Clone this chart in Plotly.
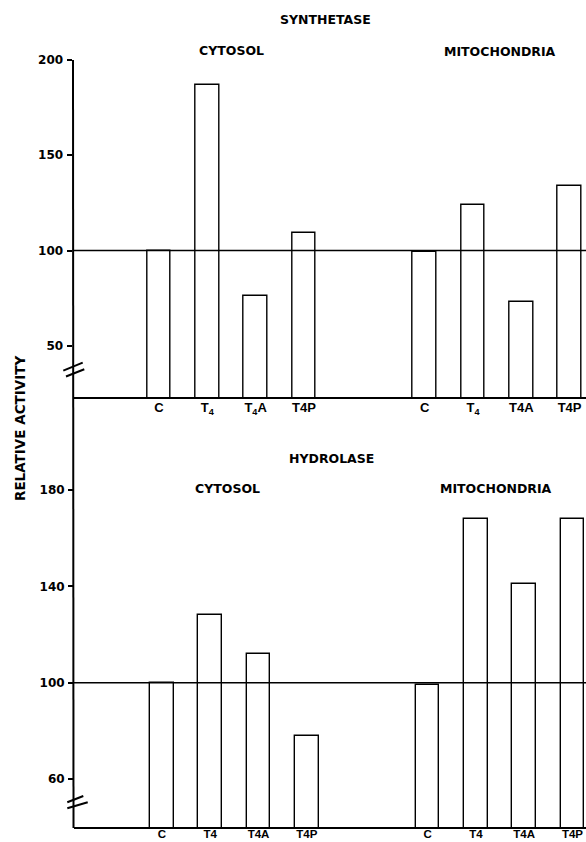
import plotly.graph_objects as go

W, H = 586, 842

treatments = ["C", "T4", "T4A", "T4P"]
groups = ["CYTOSOL", "MITOCHONDRIA"]

synth_cytosol = [100, 187, 76, 109]
synth_mito = [99, 124, 73, 134]
hydro_cytosol = [100, 128, 112, 78]
hydro_mito = [99, 168, 141, 168]

synth_ticks = [50, 100, 150, 200]
hydro_ticks = [60, 100, 140, 180]

synth_labels = ["C", "T<sub>4</sub>", "T<sub>4</sub>A", "T4P",
                "C", "T<sub>4</sub>", "T4A", "T4P"]
hydro_labels = ["C", "T4", "T4A", "T4P",
                "C", "T4", "T4A", "T4P"]

GAP = 1.5  # extra spacing between the two compartments (in category units)


def positions():
    xs = []
    for g in range(len(groups)):
        for i in range(len(treatments)):
            xs.append(i + g * (len(treatments) + GAP))
    return xs


def px(x, y):
    return x / W, 1 - y / H


xs = positions()
BW = 0.49
TITLE_FONT = dict(family="DejaVu Sans", size=12.5, color="black", weight="bold")
TICK_FONT = dict(family="DejaVu Sans", size=12, color="black", weight="bold")
XT_FONT = dict(family="Liberation Sans", size=13, color="black", weight="bold")

fig = go.Figure()

synth_min, hydro_min = 23, 40
synth_base, hydro_base = 21, 38  # bars start just below the visible axis floor

fig.add_trace(go.Bar(
    x=xs, y=[v - synth_base for v in synth_cytosol + synth_mito], base=synth_base,
    width=BW, marker=dict(color="white", line=dict(color="black", width=1.4)),
    xaxis="x", yaxis="y", showlegend=False, cliponaxis=True))
fig.add_trace(go.Bar(
    x=xs, y=[v - hydro_base for v in hydro_cytosol + hydro_mito], base=hydro_base,
    width=BW, marker=dict(color="white", line=dict(color="black", width=1.4)),
    xaxis="x2", yaxis="y2", showlegend=False, cliponaxis=True))

xa = dict(showgrid=False, zeroline=False, showline=True, linecolor="black", linewidth=2,
          ticks="", tickfont=XT_FONT, tickvals=xs, automargin=False, ticklabelstandoff=-3)
ya = dict(showgrid=False, zeroline=False, showline=False, ticks="outside", ticklen=5,
          tickwidth=1.5, tickcolor="black", tickfont=TICK_FONT, ticklabelstandoff=1,
          automargin=False)

fig.update_layout(
    width=W, height=H, margin=dict(l=0, r=0, t=0, b=0, autoexpand=False),
    paper_bgcolor="white", plot_bgcolor="white", bargap=0,
    xaxis=dict(xa, domain=[72.5 / W, 1], range=[-1.79, 8.84], anchor="y",
               ticktext=synth_labels),
    yaxis=dict(ya, domain=[1 - 397.2 / H, 1 - 60 / H], range=[synth_min, 200], anchor="x",
               tickvals=synth_ticks),
    xaxis2=dict(xa, domain=[74 / W, 1], range=[-1.82, 8.78], anchor="y2",
                ticktext=hydro_labels, tickfont=dict(XT_FONT, size=11.5),
                ticklabelstandoff=-5),
    yaxis2=dict(ya, domain=[1 - 827.3 / H, 1 - 490 / H], range=[hydro_min, 180], anchor="x2",
                tickvals=hydro_ticks),
)

# continuous vertical axis line
fig.add_shape(type="line", xref="paper", yref="paper",
              x0=73 / W, x1=73.5 / W, y0=1 - 60 / H, y1=1 - 828 / H,
              line=dict(color="black", width=2))

# reference lines at 100
fig.add_shape(type="line", xref="x domain", yref="y", x0=0, x1=1, y0=100, y1=100,
              line=dict(color="black", width=1.6), layer="above")
fig.add_shape(type="line", xref="x2 domain", yref="y2", x0=0, x1=1, y0=100, y1=100,
              line=dict(color="black", width=1.6), layer="above")

# axis break marks
for (a, b) in [((63.3, 370.7), (82.7, 362.7)), ((66, 376.5), (84.3, 369.3)),
               ((67.3, 802.3), (83.3, 796)), ((67.3, 808.3), (87.7, 802.3))]:
    x0, y0 = px(*a)
    x1, y1 = px(*b)
    fig.add_shape(type="line", xref="paper", yref="paper", x0=x0, y0=y0, x1=x1, y1=y1,
                  line=dict(color="black", width=2))

# titles
titles = [("SYNTHETASE", 325, 20), ("CYTOSOL", 231, 51), ("MITOCHONDRIA", 500, 52),
          ("HYDROLASE", 331, 458), ("CYTOSOL", 227, 488), ("MITOCHONDRIA", 496, 488)]
for t, x, y in titles:
    xp, yp = px(x, y)
    fig.add_annotation(text=t, x=xp, y=yp, xref="paper", yref="paper", showarrow=False,
                       font=TITLE_FONT, xanchor="center", yanchor="middle")

xp, yp = px(20, 429)
fig.add_annotation(text="RELATIVE ACTIVITY", x=xp, y=yp, xref="paper", yref="paper",
                   showarrow=False, textangle=-90, font=dict(TITLE_FONT, size=13.5),
                   xanchor="center", yanchor="middle")

fig.write_html("out.html")
